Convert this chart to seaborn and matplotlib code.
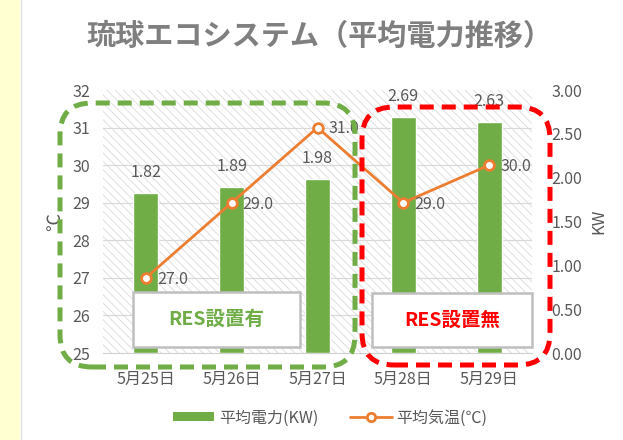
import matplotlib
matplotlib.use("Agg")
import matplotlib.pyplot as plt
from matplotlib.patches import Rectangle, FancyBboxPatch, Patch
from matplotlib.lines import Line2D
import seaborn as sns

# data
dates = ['5月25日', '5月26日', '5月27日', '5月28日', '5月29日']
power_kw = [1.82, 1.89, 1.98, 2.69, 2.63]
temp_c = [27.0, 29.0, 31.0, 29.0, 30.0]
temp_ticks = [25, 26, 27, 28, 29, 30, 31, 32]
kw_ticks = [0.0, 0.5, 1.0, 1.5, 2.0, 2.5, 3.0]

green = '#70AD47'
orange = '#ED7D31'
red = '#FF0000'
gray_txt = '#595959'

sns.set_style('white')
plt.rcParams['font.family'] = ['Noto Sans CJK JP', 'DejaVu Sans']
plt.rcParams['hatch.linewidth'] = 0.6

W, H = 623, 440
fig = plt.figure(figsize=(W / 100, H / 100), dpi=100)


def fx(x):
    return x / W


def fy(y):
    return 1 - y / H


# left yellow strip
fig.patches.append(Rectangle((0, 0), fx(20), 1, transform=fig.transFigure,
                             facecolor='#FFFFD2', edgecolor='none', zorder=0))
fig.lines.append(Line2D([fx(21), fx(21)], [0, 1], transform=fig.transFigure,
                        color='#E0E0E0', lw=1))

ax = fig.add_axes([fx(103), fy(353), fx(532) - fx(103), fy(90) - fy(353)])
ax2 = ax.twinx()

# bars (KW) on the back axis
ax2.set_zorder(0)
ax.set_zorder(1)
ax.patch.set_visible(False)
ax2.patch.set_facecolor('white')
ax2.add_patch(Rectangle((0, 0), 1, 1, transform=ax2.transAxes, facecolor='white',
                        edgecolor='#DADADA', hatch='\\\\\\\\', lw=0, zorder=0))
for t in temp_ticks[1:-1]:
    f = (t - temp_ticks[0]) / (temp_ticks[-1] - temp_ticks[0])
    ax2.plot([0, 1], [f, f], transform=ax2.transAxes, color='#D9D9D9', lw=0.9, zorder=0.5)

sns.barplot(x=dates, y=power_kw, ax=ax2, color=green, width=0.29, saturation=1, zorder=2)
ax2.bar_label(ax2.containers[0], labels=[f'{v:.2f}' for v in power_kw], padding=9,
              fontsize=11.5, color=gray_txt)
ax2.set_ylim(0, 3)
ax2.set_yticks(kw_ticks)
ax2.set_yticklabels([f'{v:.2f}' for v in kw_ticks])
ax2.set_ylabel('KW', color=gray_txt, fontsize=12, labelpad=6)

# temperature line on the front axis
sns.pointplot(x=dates, y=temp_c, ax=ax, color=orange, markers='o', errorbar=None,
              markerfacecolor='white', markeredgecolor=orange, markeredgewidth=2,
              markersize=7, linewidth=2)
for i, t in enumerate(temp_c):
    ax.annotate(f'{t:.1f}', (i, t), xytext=(8, -1), textcoords='offset points',
                ha='left', va='center', fontsize=11.5, color=gray_txt)
ax.set_ylim(25, 32)
ax.set_yticks(temp_ticks)
ax.set_ylabel('℃', color=gray_txt, fontsize=13, labelpad=6)
ax.set_xlabel('')
ax2.set_xlabel('')
ax.set_xlim(-0.5, 4.5)
ax2.set_xlim(-0.5, 4.5)

for a in (ax, ax2):
    for s in a.spines.values():
        s.set_visible(False)
    a.tick_params(axis='y', length=0, labelsize=11.5, labelcolor=gray_txt)
ax.tick_params(axis='y', pad=9)
ax2.tick_params(axis='y', pad=14)
ax2.spines['bottom'].set_visible(True)
ax2.spines['bottom'].set_color('#D0D0D0')
ax.tick_params(axis='x', length=0, labelsize=11.5, labelcolor=gray_txt, pad=13)
ax2.tick_params(axis='x', which='both', labelbottom=False)
ax2.set_xticks([i - 0.5 for i in range(len(dates) + 1)], minor=True)
ax2.tick_params(axis='x', which='minor', length=5, color='#D0D0D0')
ax2.tick_params(axis='x', which='major', length=0)

# title
fig.text(fx(319), fy(36), '琉球エコシステム（平均電力推移）', ha='center', va='center',
         fontsize=21, fontweight='bold', color='#7F7F7F')

# dashed rounded groups
for (x0, y0, x1, y1, c) in [(60, 103, 355, 367, green), (362, 107, 550, 365, red)]:
    fig.patches.append(FancyBboxPatch((x0 / 100, (H - y1) / 100), (x1 - x0) / 100, (y1 - y0) / 100,
                                      boxstyle='round,pad=0,rounding_size=0.32',
                                      transform=fig.dpi_scale_trans, facecolor='none',
                                      edgecolor=c, lw=3.6, linestyle=(0, (2.8, 1.6)), zorder=5))

# label boxes
for (x0, y0, x1, y1, txt, c) in [(133, 292, 300, 347, 'RES設置有', green),
                                 (372, 293, 532, 347, 'RES設置無', red)]:
    fig.patches.append(Rectangle((fx(x0), fy(y1)), fx(x1) - fx(x0), fy(y0) - fy(y1),
                                 transform=fig.transFigure, facecolor='white',
                                 edgecolor='#BFBFBF', lw=1.8, zorder=6))
    fig.text(fx((x0 + x1) / 2), fy((y0 + y1) / 2), txt, ha='center', va='center',
             fontsize=14, fontweight='bold', color=c, zorder=7)

# legend
handles = [Patch(facecolor=green, edgecolor='none', label='平均電力(KW)'),
           Line2D([], [], color=orange, lw=2, marker='o', markerfacecolor='white',
                  markeredgecolor=orange, markeredgewidth=2, markersize=6, label='平均気温(℃)')]
leg = fig.legend(handles=handles, loc='center', bbox_to_anchor=(fx(330), fy(418)), ncol=2,
                 frameon=False, fontsize=11.5, handlelength=2.6, handleheight=0.5,
                 columnspacing=2.0, handletextpad=0.3)
for t in leg.get_texts():
    t.set_color(gray_txt)

fig.savefig('out.png', dpi=100)
